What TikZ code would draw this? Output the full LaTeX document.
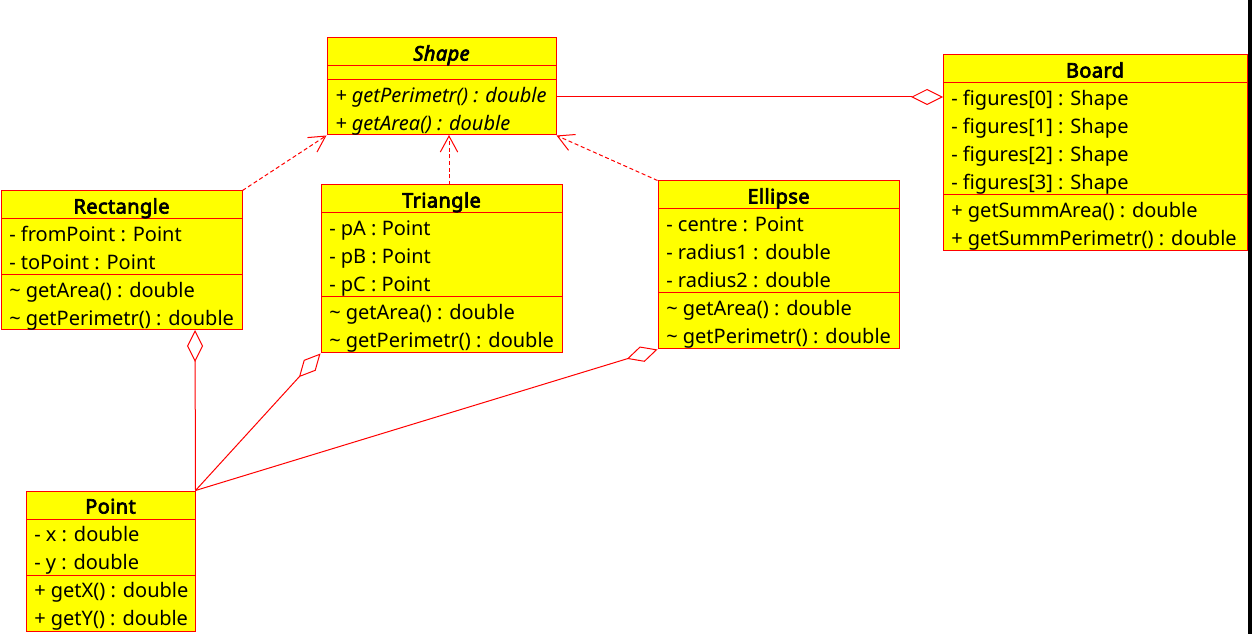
\documentclass[tikz,border=0pt]{standalone}
\usepackage{fontspec}
\setmainfont{Noto Sans}
\newfontfamily\umlbold{Noto Sans}[FakeBold=3.5, ItalicFeatures={FakeBold=3.5}, LetterSpace=2]
\usetikzlibrary{arrows.meta,fit}
\definecolor{boxred}{RGB}{255,0,0}
\definecolor{boxyellow}{RGB}{255,255,0}
\newcommand\umlsize{\fontsize{15pt}{21pt}\selectfont}
\tikzset{
  classbox/.style={draw=boxred, fill=boxyellow, line width=0.75pt, inner sep=0pt},
  sepline/.style={draw=boxred, line width=0.75pt},
  ttl/.style={anchor=base, inner sep=0pt, font=\umlsize\umlbold},
  mem/.style={anchor=base west, inner sep=0pt, font=\umlsize},
  agg/.style={draw=boxred, line width=0.75pt, -{Diamond[open,length=24pt,width=12pt]}},
  real/.style={draw=boxred, line width=0.75pt, dash pattern=on 3pt off 2pt, -{Straight Barb[length=12pt,width=13pt]}},
}
\begin{document}
\begin{tikzpicture}[x=0.75pt,y=-0.75pt]
\useasboundingbox (0,0) rectangle (1252,634);
\fill[white] (0,0) rectangle (1252,634);
\fill[black] (1248,0) rectangle (1252,634);

% Shape
\node[classbox, fit={(327,38) (556,135)}] (shape) {};
\draw[sepline] (327,66) -- (556,66);
\draw[sepline] (327,80) -- (556,80);
\node[ttl, font=\umlsize\umlbold\itshape] (shape-t) at (441.5,60.5) {Shape};
\node[mem, font=\umlsize\itshape] (shape-m1) at (335,102.5) {+ getPerimetr() : double};
\node[mem, font=\umlsize\itshape] (shape-m2) at (335,130.5) {+ getArea() : double};

% Board
\node[classbox, fit={(943,55) (1247,251)}] (board) {};
\draw[sepline] (943,83) -- (1247,83);
\draw[sepline] (943,195) -- (1247,195);
\node[ttl] (board-t) at (1095,77.5) {Board};
\node[mem] (board-a1) at (951,105.5) {- figures[0] : Shape};
\node[mem] (board-a2) at (951,133.5) {- figures[1] : Shape};
\node[mem] (board-a3) at (951,161.5) {- figures[2] : Shape};
\node[mem] (board-a4) at (951,189.5) {- figures[3] : Shape};
\node[mem] (board-m1) at (951,217.5) {+ getSummArea() : double};
\node[mem] (board-m2) at (951,245.5) {+ getSummPerimetr() : double};

% Rectangle
\node[classbox, fit={(1,191) (242,330)}] (rect) {};
\draw[sepline] (1,219) -- (242,219);
\draw[sepline] (1,275) -- (242,275);
\node[ttl] (rect-t) at (121.5,213.5) {Rectangle};
\node[mem] (rect-a1) at (9,241.5) {- fromPoint : Point};
\node[mem] (rect-a2) at (9,269.5) {- toPoint : Point};
\node[mem] (rect-m1) at (9,297.5) {\textasciitilde{} getArea() : double};
\node[mem] (rect-m2) at (9,325.5) {\textasciitilde{} getPerimetr() : double};

% Triangle
\node[classbox, fit={(321,185) (562,353)}] (tri) {};
\draw[sepline] (321,213) -- (562,213);
\draw[sepline] (321,297) -- (562,297);
\node[ttl] (tri-t) at (441.5,207.5) {Triangle};
\node[mem] (tri-a1) at (329,235.5) {- pA : Point};
\node[mem] (tri-a2) at (329,263.5) {- pB : Point};
\node[mem] (tri-a3) at (329,291.5) {- pC : Point};
\node[mem] (tri-m1) at (329,319.5) {\textasciitilde{} getArea() : double};
\node[mem] (tri-m2) at (329,347.5) {\textasciitilde{} getPerimetr() : double};

% Ellipse
\node[classbox, fit={(658,181) (899,349)}] (ell) {};
\draw[sepline] (658,209) -- (899,209);
\draw[sepline] (658,293) -- (899,293);
\node[ttl] (ell-t) at (778.5,203.5) {Ellipse};
\node[mem] (ell-a1) at (666,231.5) {- centre : Point};
\node[mem] (ell-a2) at (666,259.5) {- radius1 : double};
\node[mem] (ell-a3) at (666,287.5) {- radius2 : double};
\node[mem] (ell-m1) at (666,315.5) {\textasciitilde{} getArea() : double};
\node[mem] (ell-m2) at (666,343.5) {\textasciitilde{} getPerimetr() : double};

% Point
\node[classbox, fit={(26,491) (195,631)}] (point) {};
\draw[sepline] (26,519) -- (195,519);
\draw[sepline] (26,575) -- (195,575);
\node[ttl] (point-t) at (110.5,513.5) {Point};
\node[mem] (point-a1) at (34,541.5) {- x : double};
\node[mem] (point-a2) at (34,569.5) {- y : double};
\node[mem] (point-m1) at (34,597.5) {+ getX() : double};
\node[mem] (point-m2) at (34,625.5) {+ getY() : double};

% connectors
\coordinate (shape-r) at (556,97);
\coordinate (board-l) at (943,97);
\draw[agg] (shape-r) -- (board-l);

\coordinate (tri-top) at (449,185);
\coordinate (shape-bot) at (449,135);
\draw[real] (rect.north east) -- (shape.south west);
\draw[real] (tri-top) -- (shape-bot);
\draw[real] (ell.north west) -- (shape.south east);

\coordinate (rect-bot) at (195,330);
\draw[agg] (point.north east) -- (rect-bot);
\draw[agg] (point.north east) -- (tri.south west);
\draw[agg] (point.north east) -- (ell.south west);
\end{tikzpicture}
\end{document}
